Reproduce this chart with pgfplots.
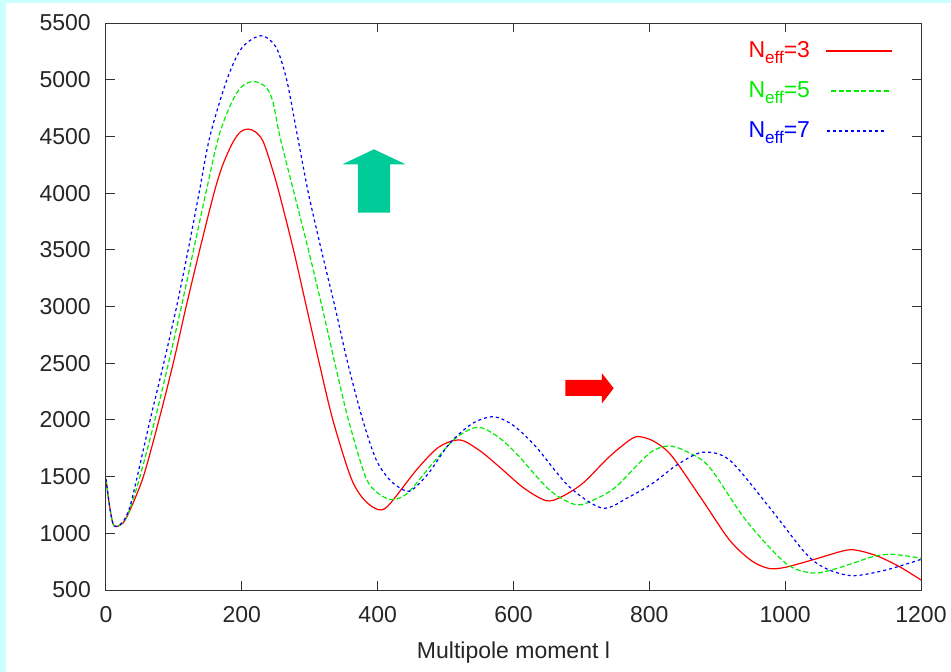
\documentclass[border=0pt]{standalone}
\usepackage{fontspec}
\setmainfont{Liberation Sans}
\usepackage{pgfplots}
\pgfplotsset{compat=1.18}
\definecolor{bgcyan}{RGB}{204,255,255}
\definecolor{arrowgreen}{RGB}{0,204,153}
\definecolor{cred}{RGB}{255,0,0}
\definecolor{cgreen}{RGB}{0,238,0}
\definecolor{cblue}{RGB}{0,0,255}
\newcommand{\sub}[1]{\raisebox{-6pt}{\fontsize{17}{17}\selectfont #1}}
\newcommand{\solidkey}{\hspace{16pt}\rule[5pt]{66pt}{2pt}}
\newcommand{\dashkey}{\hspace{16pt}\leaders\hbox to 7.5pt{\rule[5pt]{5pt}{2pt}\hss}\hskip 66pt}
\newcommand{\dotkey}{\hspace{16pt}\leaders\hbox to 6pt{\rule[5pt]{3pt}{2pt}\hss}\hskip 66pt}
\begin{document}
\fontsize{23}{27}\selectfont
\begin{tikzpicture}[x=1pt,y=1pt]
\fill[bgcyan] (0,0) rectangle (951,-672);
\fill[white] (6,-3) rectangle (951,-672);
\begin{axis}[
  at={(106pt,-590pt)}, anchor=south west,
  width=815pt, height=567pt, scale only axis,
  xmin=0, xmax=1200, ymin=500, ymax=5500,
  xtick={0,200,...,1200}, ytick={500,1000,...,5500},
  /pgf/number format/assume math mode=true,
  /pgf/number format/1000 sep={},
  tick align=inside,
  major tick length=9pt,
  axis line style={line width=1pt, black!80},
  every tick/.style={line width=1pt, black!80},
  tick label style={text=black!85, font=\fontsize{23}{27}\selectfont},
  yticklabel style={anchor=east, inner sep=0pt, xshift=-15pt},
  xticklabel style={anchor=north, inner sep=0pt, yshift=-16.5pt},
  xlabel={Multipole moment l},
  xlabel style={at={(axis description cs:0.5,0)}, anchor=base, inner sep=0pt, yshift=-68pt, text=black!85, font=\fontsize{23}{27}\selectfont},
  legend plot pos=right,
  every axis legend/.style={at={(axis description cs:0.9644,0.97002)}, anchor=north east,
     shape=rectangle, inner sep=0pt, outer sep=0pt, column sep=0pt, row sep=0pt,
     nodes={inner sep=0pt, text height=17pt, text depth=23pt, font=\fontsize{23}{27}\selectfont}},
  legend cell align=right,
  legend image code/.code={},
]
\fill[arrowgreen] (axis cs:371,3827) -- (axis cs:418.5,3827) -- (axis cs:418.5,4254) -- (axis cs:441.2,4254) -- (axis cs:394.6,4386) -- (axis cs:348.1,4254) -- (axis cs:371,4254) -- cycle;
\fill[cred] (axis cs:676.5,2211) -- (axis cs:730.3,2211) -- (axis cs:730.3,2146) -- (axis cs:747.5,2279) -- (axis cs:730.3,2411) -- (axis cs:730.3,2352) -- (axis cs:676.5,2352) -- cycle;

\addplot[color=cred, line width=1.2pt, smooth] coordinates {
(0,1480) (5,1250) (10,1090) (15,1060) (25,1090) (35,1200) (55,1500) (78,2000) (99,2500) (118,3000) (138,3500) (159,4000) (172,4250) (187,4450) (198,4540) (209,4565) (220,4540) (231,4460) (243,4250) (255,4000) (276,3500) (295,3000) (314,2500) (334,2000) (360,1500) (378,1310) (398,1215) (415,1240) (457,1558) (490,1760) (521,1823) (550,1730) (579,1587) (615,1400) (648,1288) (670,1320) (702,1441) (741,1675) (775,1838) (790,1848) (810,1800) (834,1675) (878,1294) (918,941) (950,760) (976,690) (1000,700) (1040,765) (1089,850) (1110,845) (1138,794) (1170,700) (1200,588)
};
\addlegendentry{\textcolor{cred}{N\sub{eff}=3\solidkey}}
\addplot[color=cgreen, line width=1.2pt, smooth, dash pattern=on 5pt off 2.5pt] coordinates {
(0,1480) (5,1250) (10,1090) (15,1060) (25,1095) (35,1210) (50,1500) (72,2000) (92,2500) (111,3000) (129,3500) (147,4000) (166,4500) (185,4800) (200,4940) (218,4985) (236,4930) (246,4800) (256,4500) (277,4000) (298,3500) (318,3000) (337,2500) (357,2000) (382,1500) (400,1355) (422,1297) (445,1360) (481,1617) (515,1840) (547,1935) (575,1860) (604,1705) (653,1382) (692,1252) (720,1300) (751,1411) (800,1705) (829,1770) (855,1720) (888,1587) (942,1117) (1001,735) (1040,650) (1070,680) (1099,735) (1130,795) (1158,815) (1200,780)
};
\addlegendentry{\textcolor{cgreen}{N\sub{eff}=5\dashkey}}
\addplot[color=cblue, line width=1.2pt, smooth, dash pattern=on 3pt off 3pt] coordinates {
(0,1480) (5,1250) (10,1090) (15,1060) (25,1100) (35,1230) (46,1500) (65,2000) (85,2500) (104,3000) (121,3500) (137,4000) (153,4500) (178,5000) (200,5280) (228,5388) (250,5290) (266,5000) (282,4500) (298,4000) (317,3500) (337,3000) (356,2500) (378,2000) (398,1646) (418,1470) (437,1385) (450,1380) (475,1530) (506,1793) (540,1970) (571,2028) (600,1950) (633,1764) (682,1411) (731,1222) (770,1320) (805,1441) (840,1600) (878,1714) (918,1646) (976,1235) (1030,824) (1060,690) (1099,626) (1148,676) (1200,770)
};
\addlegendentry{\textcolor{cblue}{N\sub{eff}=7\dotkey}}
\end{axis}
\pgfresetboundingbox
\path[use as bounding box] (0,0) rectangle (951,-672);
\end{tikzpicture}
\end{document}
